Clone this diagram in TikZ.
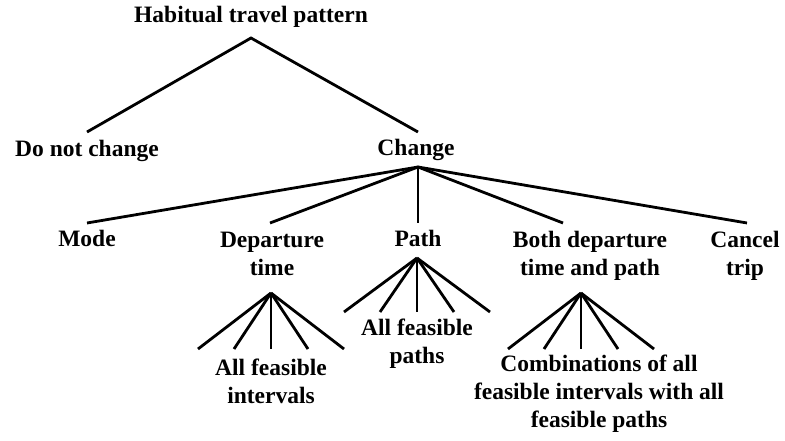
\documentclass[tikz,border=0pt]{standalone}
\usepackage{fontspec}
\setmainfont{Liberation Serif}
\tikzset{
  lbl/.style={font=\fontsize{23.5}{28}\selectfont\bfseries, inner sep=0pt, align=center, anchor=base},
  ln/.style={line width=2.8pt}
}
\begin{document}
\begin{tikzpicture}[x=1pt,y=-1pt]
\useasboundingbox[fill=white] (0,0) rectangle (785,441);
% labels (multi-line labels are placed by the baseline of their last line)
\node[lbl] (title) at (251,23) {Habitual travel pattern};
\node[lbl] (dnc) at (87,157) {Do not change};
\node[lbl] (chg) at (416,156) {Change};
\node[lbl] (mode) at (87,247) {Mode};
\node[lbl] (dep) at (272,275) {Departure\\time};
\node[lbl] (path) at (418,247) {Path};
\node[lbl] (both) at (590,275) {Both departure\\time and path};
\node[lbl] (canc) at (745,275) {Cancel\\trip};
\node[lbl] (afi) at (271,403) {All feasible\\intervals};
\node[lbl] (afp) at (417,363) {All feasible\\paths};
\node[lbl] (comb) at (599,427) {Combinations of all\\feasible intervals with all\\feasible paths};
% junction points
\coordinate (a0) at (251,38);
\coordinate (a0l) at (87,132);
\coordinate (a0r) at (418,132);
\coordinate (a1) at (418,167);
\coordinate (e1) at (87,223);
\coordinate (e2) at (270,223);
\coordinate (e3) at (418,223);
\coordinate (e4) at (563,223);
\coordinate (e5) at (747,223);
\coordinate (a2) at (271,293);
\coordinate (a3) at (417,258);
\coordinate (a4) at (581,293);
% connectors
\draw[ln] (a0l) -- (a0) -- (a0r);
\foreach \e in {e1,e2,e3,e4,e5} \draw[ln] (a1) -- (\e);
\foreach \dx in {-73,-37,0,37,73} {
  \draw[ln] (a2) -- ++(\dx,56);
  \draw[ln] (a3) -- ++(\dx,54);
  \draw[ln] (a4) -- ++(\dx,56);
}
\end{tikzpicture}
\end{document}
